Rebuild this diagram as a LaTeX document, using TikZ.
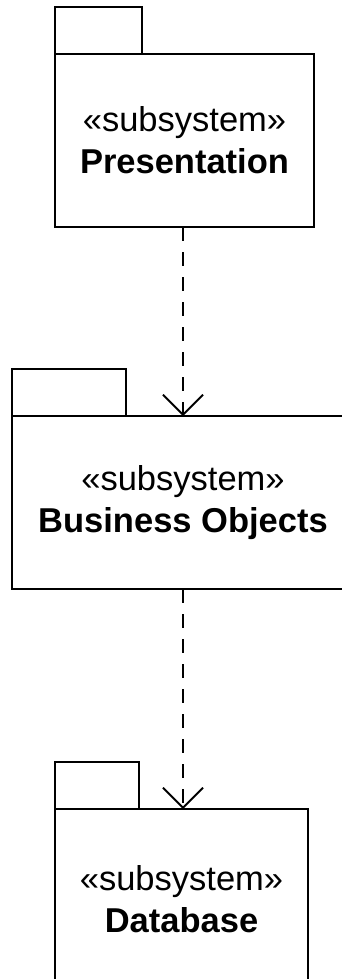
\documentclass[tikz,border=0pt]{standalone}
\usepackage{fontspec}
\setmainfont{Liberation Sans}
\usepackage{tikz}
\usetikzlibrary{positioning,arrows.meta}
\tikzstyle{pkg}=[draw=black, line width=2.6pt, fill=white, align=center, inner sep=0pt, outer sep=0pt, font=\fontsize{34.5}{42}\selectfont]
\tikzstyle{pkg_tab}=[draw=black, line width=2.6pt, fill=white, inner sep=0pt, outer sep=0pt, anchor=south west]
\tikzstyle{dep_edge}=[draw=black, line width=1.8pt, dash pattern=on 14pt off 11pt, -{Straight Barb[length=20pt, width=40pt, line width=1.8pt]}]

\begin{document}
\begin{tikzpicture}[x=1pt, y=-1pt]
        \useasboundingbox (0,0) rectangle (342,979);
        \clip (0,0) rectangle (342,979);
        % package bodies
        \node[style=pkg, minimum width=259pt, minimum height=173pt] (pres) at (184.5,140.5) {«subsystem»\\\textbf{Presentation}};
        \node[style=pkg, minimum width=342pt, minimum height=173pt] (bus) at (183,502.5) {«subsystem»\\\textbf{Business Objects}};
        \node[style=pkg, minimum width=253pt, minimum height=180pt] (db) at (181.5,899) {«subsystem»\\\textbf{Database}};
        % tabs on top of each body
        \node[style=pkg_tab, minimum width=87pt, minimum height=47pt] (pres_tab) at (pres.north west) {};
        \node[style=pkg_tab, minimum width=114pt, minimum height=47pt] (bus_tab) at (bus.north west) {};
        \node[style=pkg_tab, minimum width=84pt, minimum height=47pt] (db_tab) at (db.north west) {};
        % dependencies
        \draw[style={dep_edge}] (183,0 |- pres.south) -- (183,0 |- bus.north);
        \draw[style={dep_edge}] (183,0 |- bus.south) -- (183,0 |- db.north);
    \end{tikzpicture}
\end{document}
